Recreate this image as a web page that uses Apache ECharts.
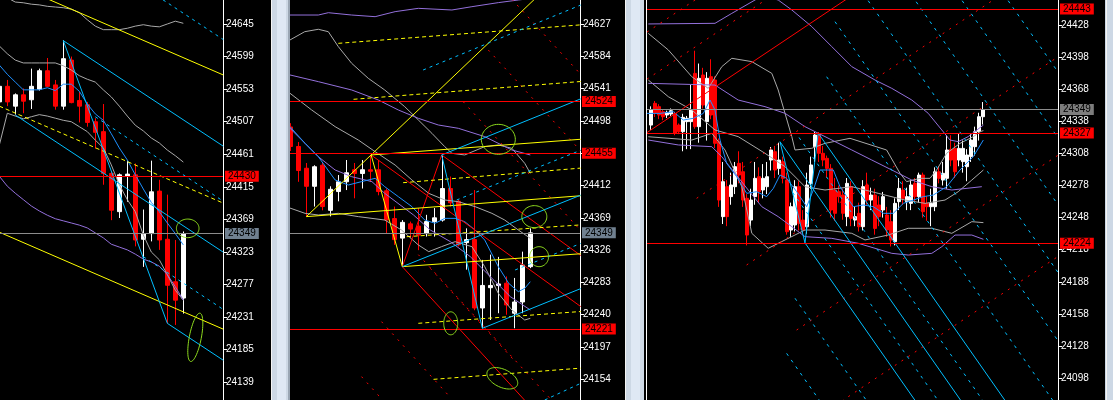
<!DOCTYPE html>
<html><head><meta charset="utf-8">
<script src="https://cdn.jsdelivr.net/npm/echarts@6/dist/echarts.min.js"></script>
<style>html,body{margin:0;padding:0;background:#000;overflow:hidden}#c{width:1113px;height:400px}</style>
</head><body><div id="c"></div>
<script>
// ---------- tick labels ----------
const P1_TICKS = [24139,24185,24231,24277,24323,24369,24415,24461,24507,24553,24599,24645];
const P2_TICKS = [24154,24197,24240,24283,24326,24369,24412,24455,24498,24541,24584,24627];
const P3_TICKS = [24098,24128,24158,24188,24218,24248,24278,24308,24338,24368,24398,24428];

// ---------- price levels (horizontal lines + tags) ----------
const P1_LEVELS_RED = [24430];
const P2_LEVELS_RED = [24524,24455,24221];
const P3_LEVELS_RED = [24443,24327,24224];
const LAST_PRICE = 24349;

// ---------- candles [bar, open, close, low, high] ----------
const P1_CANDLES = [
[0,24535,24557,24528,24562],[1,24557,24535,24529,24566],[2,24529,24545,24517,24547],[3,24545,24536,24519,24554],
[4,24538,24557,24525,24582],[5,24553,24579,24551,24582],[6,24579,24557,24556,24597],[7,24559,24529,24524,24566],
[8,24529,24596,24524,24622],[9,24594,24534,24533,24599],[10,24537,24529,24506,24549],[11,24531,24506,24500,24535],
[12,24507,24492,24469,24512],[13,24493,24434,24418,24532],[14,24434,24382,24368,24437],[15,24380,24432,24371,24434],
[16,24430,24433,24394,24452],[17,24432,24340,24331,24448],[18,24341,24349,24302,24383],[19,24349,24408,24338,24452],
[20,24409,24340,24326,24425],[21,24341,24276,24222,24404],[22,24281,24255,24220,24340],[23,24258,24349,24236,24352]
];
const P2_CANDLES = [
[0,24490,24464,24458,24495],[1,24464,24432,24417,24470],[2,24435,24411,24371,24442],[3,24411,24437,24384,24439],
[4,24439,24384,24379,24442],[5,24379,24407,24371,24411],[6,24404,24417,24391,24426],[7,24417,24429,24406,24446],
[8,24433,24428,24395,24442],[9,24428,24433,24408,24446],[10,24433,24431,24417,24453],[11,24433,24404,24399,24446],
[12,24405,24366,24348,24408],[13,24368,24340,24333,24384],[14,24342,24363,24304,24366],[15,24361,24354,24342,24364],
[16,24358,24346,24326,24382],[17,24348,24364,24344,24373],[18,24364,24369,24344,24382],[19,24366,24408,24364,24453],
[20,24408,24389,24384,24424],[21,24391,24333,24331,24393],[22,24336,24340,24300,24355],[23,24340,24249,24246,24406],
[24,24249,24279,24222,24313],[25,24276,24279,24233,24320],[26,24279,24281,24242,24317],[27,24282,24253,24240,24291],
[28,24242,24257,24222,24289],[29,24257,24306,24242,24324],[30,24304,24349,24302,24355]
];
const P3_CANDLES = [
[0,24334.5,24348.6,24330,24352],[1,24354.8,24345.4,24342,24357],[2,24351.7,24343.9,24340,24354],[3,24347,24342.3,24339,24349],
[4,24343.9,24346.4,24341,24348],[5,24344.8,24347.9,24343,24350],[6,24345.4,24326.8,24325,24347],[7,24334.5,24328.3,24326,24336],
[8,24328.3,24341.7,24310,24345],[9,24337.7,24340.8,24312,24343],[10,24337.7,24348.6,24312,24372],[11,24382.8,24333,24331,24404],
[12,24333,24378.2,24318,24392],[13,24381.3,24353.2,24350,24388],[14,24337.7,24378.2,24320,24384],[15,24379.7,24343.9,24340,24396],
[16,24376.6,24317.4,24313,24380],[17,24319,24264.4,24258,24322],[18,24248.9,24281.6,24242,24300],[19,24276.9,24248.9,24240,24283],
[20,24267.6,24278.5,24260,24290],[21,24276.9,24295.6,24270,24300],[22,24298.7,24287.8,24280,24310],[23,24290.9,24264.4,24258,24300],
[24,24266,24231.7,24222,24270],[25,24245.7,24264.4,24240,24275],[26,24267.6,24284.7,24260,24300],[27,24286.2,24272.2,24262,24295],
[28,24273.8,24284.7,24266,24298],[29,24276.9,24286.2,24270,24300],[30,24301.8,24311.2,24292,24314],[31,24309.6,24292.5,24285,24315],
[32,24294,24301.8,24288,24318],[33,24300.3,24284.7,24280,24305],[34,24283.1,24234.8,24232,24290],[35,24236.4,24258.2,24230,24262],
[36,24241.1,24276.9,24235,24283],[37,24276.9,24242.6,24236,24282],[38,24245.7,24236.4,24233,24255],[39,24239.5,24278.5,24233,24290],
[40,24280,24297.2,24275,24305],[41,24314.3,24325.2,24300,24328],[42,24325.2,24308.1,24300,24328],[43,24308.1,24301.8,24296,24315],
[44,24303.4,24294,24285,24306],[45,24294,24255.1,24248,24298],[46,24273.8,24252,24245,24285],[47,24272.2,24267.6,24262,24278],
[48,24269.1,24252,24246,24275],[49,24248.9,24280,24240,24285],[50,24276.9,24247.3,24240,24282],[51,24245.7,24248.9,24240,24258],
[52,24252,24239.5,24235,24262],[53,24239.5,24276.9,24236,24283],[54,24278.5,24264.4,24260,24290],[55,24264.4,24269.1,24255,24276],
[56,24269.1,24237.9,24232,24275],[57,24259.8,24248.9,24240,24268],[58,24255.1,24267.6,24248,24272],[59,24250.4,24236.4,24230,24258],
[60,24244.2,24227,24221,24255],[61,24225.5,24261.3,24222,24266],[62,24262.9,24275.3,24255,24285],[63,24273.8,24266,24260,24282],
[64,24262.9,24267.6,24255,24276],[65,24261.3,24278.5,24255,24283],[66,24280,24267.6,24262,24285],[67,24267.6,24287.8,24262,24290],
[68,24287.8,24253.5,24248,24290],[69,24261.3,24258.2,24245,24268],[70,24258.2,24261.3,24240,24275],[71,24258.2,24290.9,24254,24295],
[72,24290.9,24284.7,24280,24296],[73,24283.1,24289.4,24278,24300],[74,24284.7,24311.2,24275,24325],[75,24311.8,24301.8,24296,24325],
[76,24312.7,24290.9,24285,24318],[77,24301.8,24312.7,24296,24327],[78,24300.3,24312.7,24290,24320],[79,24295.6,24306.5,24282,24312],
[80,24305,24320.5,24300,24327],[81,24314.3,24328.3,24306,24333],[82,24328.3,24342.3,24320,24346],[83,24342.3,24349,24335,24356]
];

// ---------- indicator lines [bar, price] ----------
const P1_MA = [[0,24587],[1,24574],[2,24563],[3,24552],[4,24552],[5,24552],[6,24555],[7,24551],[8,24560],[9,24560],[10,24550],[11,24532],[12,24518],[13,24509],[14,24490],[15,24470],[16,24453],[17,24432],[18,24412],[19,24393],[20,24380],[21,24364],[22,24349],[23,24333]];
const P1_BAND_UP = [[0,24614],[1,24603],[2,24594],[3,24590],[4,24590],[5,24590],[6,24590],[7,24590],[8,24586],[9,24580],[10,24572],[11,24567],[12,24563],[13,24552],[14,24542],[15,24529],[16,24515],[17,24502],[18,24494],[19,24484],[20,24477],[21,24467],[22,24459],[23,24450]];
const P1_BAND_LO = [[0,24474],[1,24519],[2,24515],[3,24511],[4,24514],[5,24517],[6,24515],[7,24512],[8,24509],[9,24507],[10,24500],[11,24493],[12,24481],[13,24470],[14,24446],[15,24418],[16,24397],[17,24380],[18,24347],[19,24323],[20,24312],[21,24291],[22,24269],[23,24255]];
const P1_BAND_OUT = [[0,24690],[1,24682],[2,24676],[3,24675],[4,24673],[5,24672],[6,24670],[7,24669],[8,24668],[9,24666],[10,24661],[11,24651],[12,24642],[13,24637],[14,24637],[15,24637],[16,24639],[17,24642],[18,24644],[19,24642],[20,24641],[21,24645],[22,24649],[23,24646]];
const P1_PURPLE = [[0,24430],[1,24416],[2,24406],[3,24397],[4,24388],[5,24381],[6,24375],[7,24370],[8,24367],[9,24364],[10,24361],[11,24357],[12,24350],[13,24343],[14,24334],[15,24330],[16,24326],[17,24320],[18,24313],[19,24309],[20,24303],[21,24291],[22,24274],[23,24255]];

const P2_MA = [[-0.04,24490.4],[1.84,24468.2],[3.5,24450.4],[5.6,24419.4],[7.25,24412.7],[8.9,24417.2],[10.6,24421.6],[11.8,24410.5],[13.5,24397.2],[15.2,24383.9],[16.8,24366.1],[18.1,24361.7],[19.3,24368.3],[20.6,24368.3],[21.8,24363.9],[23.1,24352.8],[24.3,24339.5],[26,24304],[27.3,24281.8],[28.5,24270.7],[29.3,24275.2],[30,24284]];
const P2_GRAY_UP = [[-0.04,24605.8],[1.8,24616.8],[3.5,24620],[4.75,24616.8],[6,24596.9],[7.67,24574.7],[9.75,24554.7],[11.8,24539.2],[14.3,24517],[16,24499.3],[17.7,24481.5],[19.3,24463.8],[20.2,24454.9],[21.8,24452.7],[24.3,24463.8],[26,24466],[27.7,24461.5],[29.3,24441.6],[30,24428.3]];
const P2_GRAY_MID = [[-0.04,24534.8],[2.67,24512.6],[5.6,24490.4],[8.5,24472.6],[10.6,24457.1],[13.1,24439.3],[15.2,24419.4],[17.3,24401.6],[19.3,24392.8],[21,24390.5],[23.1,24383.9],[25.2,24375],[26.8,24366.1],[28.5,24352.8],[30,24341.7]];
const P2_GRAY_LO = [[-0.04,24382],[1.84,24375],[3.5,24372.8],[6,24375],[8.5,24370.6],[11.8,24366.1],[13.9,24352.8],[16,24332.9],[17.3,24324],[18.9,24330.6],[20.6,24337.3],[22.7,24330.6],[24.3,24304],[26,24268.5],[27.7,24246.3],[29.3,24233],[30,24235.2]];
const P2_PURPLE_TOP = [[-0.04,24639],[3.5,24639],[4.75,24642.1],[7.67,24639],[10.6,24636.8],[13.1,24643.5],[16,24647.9],[20.2,24645.7],[22.7,24650.1],[26,24655.5],[28.5,24659],[30,24661]];
const P2_PURPLE_MID = [[-0.04,24559.2],[3.5,24550.3],[7.67,24539.2],[11,24525.9],[13.5,24512.6],[16,24501.5],[18.5,24492.6],[21,24488.2],[24.3,24477.1],[27.7,24459.3],[30,24452.7]];
const P2_PURPLE_LO = [[-0.04,24488.2],[1.84,24468.2],[3.5,24450.4],[5.6,24432.7],[7.67,24423.8],[10.2,24417.2],[11.8,24401.6],[15.4,24372.8],[17.5,24352.8],[20,24337.3],[22.5,24317.3],[25,24290.7],[27.5,24264.1],[30,24246.3]];

const P3_MA = [[-1.08,24345.4],[2.25,24345.4],[5.58,24347],[8.08,24339.2],[10.58,24340.8],[13.08,24345.4],[14.75,24357.9],[16,24348.6],[17.25,24320.5],[18.92,24298.7],[21.42,24286.2],[23.92,24270.7],[26.42,24272.2],[28.92,24267.6],[30.58,24275.3],[32.25,24287.8],[33.92,24284.7],[36.42,24272.2],[38.92,24258.2],[40.58,24273.8],[42.25,24292.5],[45.58,24292.5],[47.25,24276.9],[48.92,24267.6],[50.58,24258.2],[53.08,24259.8],[55.58,24258.2],[58.08,24252],[60.58,24252],[63.08,24261.3],[65.58,24264.4],[68.08,24267.6],[70.58,24269.1],[73.92,24276.9],[77.25,24292.5],[80.58,24305],[83.08,24320.5]];
const P3_PURPLE_UP = [[-0.67,24429],[16,24429.6],[20.2,24438.9],[26,24451.4],[28.1,24456.1],[30.2,24453],[31.8,24451.4],[35.2,24442.1],[40.2,24426.5],[45.2,24407.8],[50.2,24389.1],[56,24376.6],[60.2,24368.8],[65.2,24357.9],[69.3,24345.5],[72.7,24329.9],[74.75,24320.5],[76.8,24319],[79.3,24323.7],[83.1,24334.5]];
const P3_PURPLE_MID = [[-0.67,24373.5],[16,24371.9],[21.8,24357.9],[28.5,24351.7],[33.5,24345.5],[38.5,24333],[43.5,24323.7],[50.2,24311.2],[55.2,24301.8],[60.2,24292.5],[65.2,24283.1],[70.2,24276.9],[75.2,24273.8],[82.7,24276.9]];
const P3_PURPLE_LO = [[-0.67,24320.5],[6.83,24315.9],[15.2,24314.3],[17.7,24304.9],[21,24289.4],[24.3,24273.8],[27.7,24258.2],[31.8,24248.9],[35.2,24239.5],[38.5,24230.2],[45.2,24228.6],[51.8,24224],[60.2,24214.6],[64.3,24213],[70.2,24214.6],[72.7,24220.8],[76,24231.7],[80.2,24231.7],[83.1,24227.7]];
const P3_GRAY_A = [[-0.67,24420.2],[4.33,24404.7],[10.2,24379.7],[14.3,24368.8],[17.7,24389.1],[20.2,24396.9],[25.2,24393.8],[30.2,24382.8],[31.8,24367.3],[33.5,24345.5],[35.2,24323.7],[36,24311.2],[40.2,24312.8],[43.5,24317.4],[49.75,24322.1],[58.9,24311.2],[62.25,24289.4],[63.9,24281.6],[67.25,24284.7],[69.75,24284.7],[71.4,24292.5],[73.9,24308.1],[77.25,24317.4],[80.6,24323.7],[82.25,24328.3],[83.1,24329.3]];
const P3_GRAY_B = [[-0.67,24376.6],[4.33,24361],[10.2,24348.6],[16,24329.9],[21.8,24323.7],[28.5,24308.1],[33.5,24295.6],[38.5,24276.9],[43.5,24273.8],[50.2,24276.9],[56.8,24270.7],[63.5,24264.4],[68.5,24261.3],[73.5,24264.4],[76.8,24272.2],[80.2,24283.1],[83.1,24292.5]];
const P3_GRAY_C = [[-0.67,24323.6],[10.2,24320.5],[15.2,24326.8],[18.5,24311.2],[22.7,24276.9],[25.2,24233.3],[29.3,24219.3],[33.5,24227.1],[38.5,24236.4],[43.5,24236.4],[50.2,24233.3],[53.5,24227.1],[59.3,24231.7],[64.3,24238],[70.2,24238],[75.2,24233.3],[80.2,24244.2],[83.1,24243.3]];

// ---------- drawn objects (trend lines) [bar, price] pairs ----------
const P1_YELLOW = [[[0,24710],[28,24573]], [[0,24351],[28,24214]]];
const P1_YELLOW_DASH = [[[0,24529],[28,24392]]];
const P1_CYAN = [[[8,24621.5],[28,24472.4]], [[8,24621.5],[21,24222.3],[28,24170.1]], [[2,24516.5],[28,24322.7]]];
const P1_CYAN_DASH = [[[12,24514],[28,24394.7]], [[18,24316.4],[28,24241.8]], [[19,24690],[28,24623]]];
const P1_RINGS = [[23.55,24356.4],[24.5,24202.5]];

const P2_YELLOW = [[[2,24370.6],[36.3,24398.4]], [[10.1,24452.7],[36.3,24473.6]], [[14,24304],[36.3,24321.2]], [[10.1,24452.7],[14,24304]]];
const P2_YELLOW_THIN = [[[2,24370.6],[32,24675]]];
const P2_YELLOW_DASH = [[[6,24601.3],[36.3,24625.9]], [[7.9,24526.8],[36.3,24550.5]], [[14.1,24415.8],[36.3,24435.2]], [[14.55,24343.9],[36.3,24359.6]], [[16,24228.6],[36.3,24244.3]], [[17.9,24154],[36.3,24168.9]]];
const P2_CYAN = [[[18.92,24452.7],[36.3,24527.4]], [[14,24304],[36.3,24399.2]], [[24,24221.9],[36.3,24274.8]], [[18.92,24452.7],[24,24221.9]]];
const P2_CYAN_DASH = [[[16.6,24565.8],[36.3,24652.3]], [[20.8,24392.8],[36.3,24459]], [[28.1,24299.6],[36.3,24334.9]], [[31.8,24126.5],[36.3,24148.7]]];
const P2_RED = [[[14,24304],[18.92,24452.7]], [[10.1,24452.7],[36.3,24250.9]], [[18.92,24452.7],[36.3,24318.9]], [[14,24304],[30,24118]]];
const P2_RED_DOT = [[[27,24668],[36.3,24560]], [[24.75,24592.4],[36.3,24458]], [[21.6,24523.7],[36.3,24352]], [[16,24320],[36.3,24084]], [[11.4,24230.8],[20,24130]], [[8.9,24157.6],[12,24121]], [[17.5,24301.8],[28,24179]]];
const P2_RINGS = [[26,24473.5],[30.5,24370.6],[31.1,24317.3],[20.05,24228.6],[26.5,24155.4]];

const P3_RED = [[[-1,24327.5],[55,24467.5]]];
const P3_RED_DOT = [[[-1,24421.4],[15,24461.4]], [[-1,24377.4],[35,24467.4]], [[11.4,24266],[101.75,24491.9]], [[23.9,24203.7],[101.75,24398.3]], [[36.4,24142.9],[101.75,24306.3]], [[46,24072.3],[101.75,24211.7]]];
const P3_CYAN = [[[32.25,24318.9],[38.5,24224.3],[41.8,24327]], [[38.5,24224.3],[70,24055.8]], [[32.25,24318.9],[80,24063.4]], [[41.8,24327],[90,24069.1]]];
const P3_CYAN_DASH = [[[35.4,24271.6],[75,24059.7]], [[37,24322.9],[85,24066.1]], [[43.9,24379.7],[101.75,24070.2]], [[46,24431.1],[101.75,24132.9]], [[52,24463],[101.75,24196.8]], [[64,24462],[101.75,24260]], [[75.5,24463],[101.75,24322.6]], [[87,24463],[101.75,24384.1]], [[36,24172.6],[60,24044.2]], [[33.9,24121.1],[50,24035]]];

// ---------- styles / layout ----------
const C = {red:'#ff0000', gray:'#8c8c8c', tagGray:'#708090', tagGray3:'#7d7d7d', yellow:'#ffff00', cyan:'#00bfff', blue:'#1e90ff', purple:'#9370db', silver:'#a9a9a9', ring:'#8fdc1e'};
const FONT = 'Liberation Sans';
const FS = 10;
const RING_SIZE = {p1:[{rx:11.3,ry:9.3,rot:0},{rx:6,ry:24.6,rot:11}], p2:[{rx:17,ry:15,rot:0},{rx:12.5,ry:11,rot:0},{rx:9.5,ry:10,rot:0},{rx:7,ry:11.5,rot:0},{rx:16.5,ry:9,rot:25}]};

const grids = [
  {left:0, top:0, width:223, height:400},
  {left:290, top:0, width:290, height:400},
  {left:647, top:0, width:411, height:400}
];
const xr = [[0.0875,27.96],[-0.04,36.21],[-1,101.75]];
const yr = [[24114,24678.9],[24126.5,24659],[24077.5,24451.4]];
const ticks = [P1_TICKS,P2_TICKS,P3_TICKS];

const xAxis = grids.map((g,i)=>({gridIndex:i,type:'value',min:xr[i][0],max:xr[i][1],show:false}));
const yAxis = grids.map((g,i)=>({
  gridIndex:i,type:'value',position:'right',min:yr[i][0],max:yr[i][1],
  splitLine:{show:false},
  axisLine:{show:true,onZero:false,lineStyle:{color:'#fff',width:1}},
  axisTick:{show:true,customValues:ticks[i],length:4,lineStyle:{color:'#fff',width:1}},
  axisLabel:{show:true,customValues:ticks[i],color:'#fff',fontSize:FS,fontFamily:FONT,margin:3,formatter:v=>String(v)}
}));

function line(g, pts, color, type, z){
  return {type:'line',xAxisIndex:g,yAxisIndex:g,data:pts,symbol:'none',showSymbol:false,
    lineStyle:{color:color,width:1,type:type||'solid'},silent:true,animation:false,z:z||3,clip:true};
}
function many(g, arr, color, type, z){ return arr.map(p=>line(g,p,color,type,z)); }

function levelLines(reds, grayBg){
  const d = reds.map(v=>({yAxis:v,lineStyle:{color:C.red,width:1.2,type:'solid'},
    label:{show:true,position:'end',formatter:String(v),backgroundColor:C.red,color:'#000',fontSize:FS,fontFamily:FONT,padding:[1,3,0,3],distance:2}}));
  d.push({yAxis:LAST_PRICE,lineStyle:{color:C.gray,width:1.2,type:'solid'},
    label:{show:true,position:'end',formatter:String(LAST_PRICE),backgroundColor:grayBg,color:'#000',fontSize:FS,fontFamily:FONT,padding:[1,3,0,3],distance:2}});
  return {symbol:['none','none'],silent:true,animation:false,data:d};
}
function candles(g, data, bw, reds, grayBg){
  return {type:'candlestick',xAxisIndex:g,yAxisIndex:g,data:data,
    dimensions:['t','open','close','lowest','highest'],encode:{x:'t',y:['open','close','lowest','highest']},
    barWidth:bw,itemStyle:{color:'#fff',color0:C.red,borderColor:'#fff',borderColor0:C.red,borderWidth:1},
    animation:false,silent:true,z:2,markLine:levelLines(reds,grayBg)};
}
function rings(g, centers, sizes){
  return {type:'custom',xAxisIndex:g,yAxisIndex:g,data:centers,silent:true,animation:false,z:6,
    renderItem:(params,api)=>{
      const c = api.coord([api.value(0),api.value(1)]);
      const s = sizes[params.dataIndex]; const th = s.rot*Math.PI/180;
      const pts=[];
      for(let i=0;i<60;i++){const t=i/60*Math.PI*2; const ex=s.rx*Math.cos(t), ey=s.ry*Math.sin(t);
        pts.push([c[0]+ex*Math.cos(th)-ey*Math.sin(th), c[1]+ex*Math.sin(th)+ey*Math.cos(th)]);}
      return {type:'polygon',shape:{points:pts},style:{fill:'none',stroke:C.ring,lineWidth:1}};
    }};
}

const DASH_Y=[4,3], DASH_C=[3,4], DOT_R=[2,6], DASH_C3=[3,5];

const series = [
  candles(0,P1_CANDLES,4,P1_LEVELS_RED,C.tagGray),
  line(0,P1_BAND_OUT,C.silver), line(0,P1_BAND_UP,C.silver), line(0,P1_BAND_LO,C.silver),
  line(0,P1_PURPLE,C.purple), line(0,P1_MA,C.blue),
  ...many(0,P1_YELLOW,C.yellow), ...many(0,P1_YELLOW_DASH,C.yellow,DASH_Y),
  ...many(0,P1_CYAN,C.cyan), ...many(0,P1_CYAN_DASH,C.cyan,DASH_C),
  rings(0,P1_RINGS,RING_SIZE.p1),
  candles(1,P2_CANDLES,4,P2_LEVELS_RED,C.tagGray),
  line(1,P2_GRAY_UP,C.silver), line(1,P2_GRAY_MID,C.silver), line(1,P2_GRAY_LO,C.silver),
  line(1,P2_PURPLE_TOP,C.purple), line(1,P2_PURPLE_MID,C.purple), line(1,P2_PURPLE_LO,C.purple),
  line(1,P2_MA,C.blue),
  ...many(1,P2_RED,C.red), ...many(1,P2_RED_DOT,C.red,DOT_R),
  ...many(1,P2_YELLOW_THIN,C.yellow), ...many(1,P2_YELLOW,C.yellow), ...many(1,P2_YELLOW_DASH,C.yellow,DASH_Y),
  ...many(1,P2_CYAN,C.cyan), ...many(1,P2_CYAN_DASH,C.cyan,DASH_C),
  rings(1,P2_RINGS,RING_SIZE.p2),
  candles(2,P3_CANDLES,2.6,P3_LEVELS_RED,C.tagGray3),
  line(2,P3_GRAY_A,C.silver), line(2,P3_GRAY_B,C.silver), line(2,P3_GRAY_C,C.silver),
  line(2,P3_PURPLE_UP,C.purple), line(2,P3_PURPLE_MID,C.purple), line(2,P3_PURPLE_LO,C.purple),
  line(2,P3_MA,C.blue),
  ...many(2,P3_RED,C.red), ...many(2,P3_RED_DOT,C.red,DOT_R),
  ...many(2,P3_CYAN,C.cyan), ...many(2,P3_CYAN_DASH,C.cyan,DASH_C3)
];

const frame = [
  {type:'rect',shape:{x:271,y:0,width:19,height:400},style:{fill:'#cdd8e5'},z:100},
  {type:'rect',shape:{x:277,y:0,width:9,height:400},style:{fill:'#dfe8f4'},z:101},
  {type:'rect',shape:{x:271,y:0,width:1,height:400},style:{fill:'#f4f4f4'},z:101},
  {type:'rect',shape:{x:288,y:0,width:2,height:400},style:{fill:'#9aa6b4'},z:101},
  {type:'rect',shape:{x:625,y:0,width:19,height:400},style:{fill:'#cdd8e5'},z:100},
  {type:'rect',shape:{x:631,y:0,width:9,height:400},style:{fill:'#dfe8f4'},z:101},
  {type:'rect',shape:{x:625,y:0,width:1,height:400},style:{fill:'#f4f4f4'},z:101},
  {type:'rect',shape:{x:646,y:0,width:1,height:400},style:{fill:'#ffffff'},z:101},
  {type:'rect',shape:{x:1105,y:0,width:8,height:400},style:{fill:'#cdd8e5'},z:100},
  {type:'rect',shape:{x:1106,y:0,width:1,height:400},style:{fill:'#f4f4f4'},z:101}
];

const chart = echarts.init(document.getElementById('c'),null,{renderer:'canvas',width:1113,height:400});
chart.setOption({backgroundColor:'#000',animation:false,grid:grids,xAxis:xAxis,yAxis:yAxis,series:series,graphic:frame});
</script></body></html>
